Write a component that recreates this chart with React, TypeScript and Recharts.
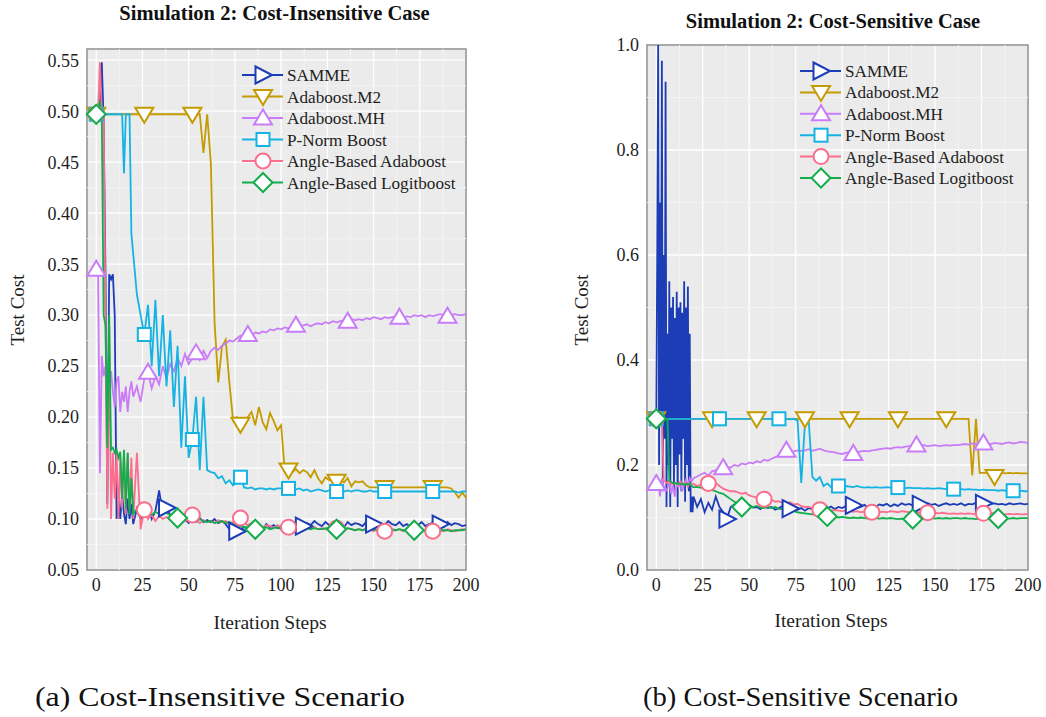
import { LineChart, Line, XAxis, YAxis, CartesianGrid, ReferenceLine, ReferenceArea } from "recharts";

const FONT = '"Liberation Serif", "Times New Roman", serif';

// iteration steps: every step up to 20, then every 2nd step
const STEPS = [
  0, 1, 2, 3, 4, 5, 6, 7, 8, 9, 10, 11, 12, 13, 14, 15, 16, 17, 18, 19, 20,
  22, 24, 26, 28, 30, 32, 34, 36, 38, 40,
  42, 44, 46, 48, 50, 52, 54, 56, 58, 60,
  62, 64, 66, 68, 70, 72, 74, 76, 78, 80,
  82, 84, 86, 88, 90, 92, 94, 96, 98, 100,
  102, 104, 106, 108, 110, 112, 114, 116, 118, 120,
  122, 124, 126, 128, 130, 132, 134, 136, 138, 140,
  142, 144, 146, 148, 150, 152, 154, 156, 158, 160,
  162, 164, 166, 168, 170, 172, 174, 176, 178, 180,
  182, 184, 186, 188, 190, 192, 194, 196, 198, 200,
];
// SAMME in the cost-sensitive run swings at every half step early on
const HALF_STEPS = [
  0, 0.5, 1, 1.5, 2, 2.5, 3, 3.5, 4, 4.5, 5, 5.5, 6, 6.5, 7, 7.5, 8, 8.5, 9, 9.5,
  10, 10.5, 11, 11.5, 12, 12.5, 13, 13.5, 14, 14.5, 15, 15.5, 16, 16.5, 17, 17.5, 18, 18.5, 19, 19.5, 20,
];

const X_TICKS = [0, 25, 50, 75, 100, 125, 150, 175, 200];
const MINOR_X = [12.5, 37.5, 62.5, 87.5, 112.5, 137.5, 162.5, 187.5];
const LEFT_Y_TICKS = [0.05, 0.1, 0.15, 0.2, 0.25, 0.3, 0.35, 0.4, 0.45, 0.5, 0.55];
const LEFT_MINOR_Y = [0.075, 0.125, 0.175, 0.225, 0.275, 0.325, 0.375, 0.425, 0.475, 0.525];
const RIGHT_Y_TICKS = [0, 0.2, 0.4, 0.6, 0.8, 1.0];
const RIGHT_MINOR_Y = [0.1, 0.3, 0.5, 0.7, 0.9];

const SERIES_NAMES = ["SAMME", "Adaboost.M2", "Adaboost.MH", "P-Norm Boost", "Angle-Based Adaboost", "Angle-Based Logitboost"];
const SERIES_KEYS = ["samme", "m2", "mh", "pn", "aa", "al"];
const SERIES_COLORS = ["#1c3db6", "#c49b00", "#c97cf7", "#14b3e3", "#fa6e8e", "#13ad4c"];
const SERIES_SHAPES = ["right", "down", "up", "square", "circle", "diamond"];

// ---- Simulation 2, cost-insensitive ----
const L_SAMME = [
  .50, .49, .505, .548, .49, .34, .115, .34, .335, .34, .30, .10, .12, .10, .125, .105, .095, .12, .10, .115, .095,
  .11, .10, .105, .112, .10, .108, .128, .105, .111, .104,
  .098, .102, .097, .10, .096, .099, .098, .101, .097, .099,
  .097, .10, .096, .098, .095, .09, .087, .088, .09, .092,
  .09, .094, .091, .093, .09, .095, .092, .094, .091, .093,
  .095, .092, .097, .094, .096, .093, .096, .094, .098, .095,
  .093, .097, .094, .096, .093, .095, .092, .097, .094, .096,
  .095, .093, .097, .094, .095, .093, .096, .094, .098, .095,
  .094, .097, .093, .095, .092, .096, .094, .097, .093, .095,
  .096, .093, .095, .092, .097, .094, .096, .095, .093, .094,
];
const L_M2 = [
  .497, .497, .497, .497, .497, .497, .497, .497, .497, .497, .497, .497, .497, .497, .497, .497, .497, .497, .497, .497, .497,
  .497, .497, .497, .497, .497, .497, .497, .497, .497, .497,
  .497, .497, .497, .497, .497, .497, .497, .497, .459, .497,
  .449, .293, .234, .269, .276, .234, .197, .20, .193, .194,
  .20, .205, .192, .21, .195, .188, .204, .196, .187, .192,
  .147, .148, .146, .149, .145, .148, .146, .141, .148, .14,
  .135, .141, .138, .139, .137, .138, .136, .14, .132, .137,
  .136, .137, .133, .131, .131, .131, .131, .131, .131, .131,
  .131, .131, .131, .131, .131, .131, .131, .131, .131, .131,
  .131, .131, .131, .131, .131, .13, .126, .121, .126, .121,
];
const L_MH = [
  .345, .34, .145, .26, .24, .25, .23, .22, .245, .225, .21, .235, .24, .205, .225, .215, .23, .205, .225, .235, .22,
  .23, .215, .238, .244, .228, .24, .232, .25, .238, .252,
  .245, .258, .25, .262, .252, .258, .263, .256, .265, .258,
  .265, .268, .266, .27, .272, .275, .274, .277, .28, .278,
  .281, .28, .283, .282, .284, .283, .286, .285, .287, .286,
  .288, .287, .289, .29, .288, .29, .291, .289, .291, .292,
  .291, .293, .292, .294, .293, .294, .295, .294, .296, .295,
  .296, .295, .297, .296, .298, .297, .296, .298, .297, .298,
  .299, .298, .297, .299, .298, .30, .299, .30, .298, .30,
  .299, .30, .301, .30, .299, .30, .301, .30, .30, .301,
];
const L_PN = [
  .497, .497, .497, .497, .497, .497, .497, .497, .497, .497, .497, .497, .497, .497, .497, .439, .497, .497, .497, .38, .36,
  .32, .30, .281, .31, .25, .315, .24, .30, .23, .285,
  .21, .27, .17, .24, .16, .178, .22, .148, .22, .148,
  .146, .145, .14, .142, .135, .138, .133, .136, .141, .131,
  .13, .131, .129, .13, .13, .129, .13, .129, .13, .13,
  .129, .13, .128, .129, .13, .128, .129, .127, .128, .129,
  .128, .127, .128, .128, .127, .128, .127, .128, .127, .128,
  .128, .127, .127, .128, .127, .127, .128, .127, .127, .127,
  .127, .127, .127, .127, .127, .127, .127, .127, .127, .127,
  .127, .127, .127, .127, .127, .127, .127, .126, .127, .127,
];
const L_AA = [
  .497, .50, .548, .50, .495, .30, .11, .29, .10, .165, .12, .165, .10, .16, .11, .165, .105, .165, .11, .16, .10,
  .165, .09, .109, .10, .104, .098, .103, .10, .102, .099,
  .10, .097, .101, .098, .10, .104, .099, .096, .099, .097,
  .098, .096, .099, .097, .098, .095, .097, .099, .101, .096,
  .094, .096, .093, .095, .092, .094, .093, .091, .094, .092,
  .093, .092, .094, .091, .092, .09, .093, .091, .092, .09,
  .091, .09, .092, .089, .091, .09, .089, .091, .09, .089,
  .09, .089, .091, .09, .088, .09, .089, .088, .09, .089,
  .089, .09, .088, .089, .09, .088, .089, .09, .088, .089,
  .088, .09, .089, .088, .09, .089, .088, .089, .09, .089,
];
const L_AL = [
  .497, .50, .51, .495, .30, .29, .17, .30, .168, .17, .165, .168, .16, .166, .12, .168, .11, .165, .105, .14, .105,
  .11, .108, .106, .11, .104, .107, .105, .108, .106, .104,
  .103, .101, .10, .099, .101, .098, .097, .10, .098, .097,
  .098, .096, .097, .098, .096, .097, .095, .094, .093, .092,
  .092, .091, .09, .093, .091, .092, .09, .091, .092, .09,
  .091, .092, .09, .091, .09, .092, .091, .09, .091, .09,
  .09, .091, .09, .089, .09, .089, .09, .091, .09, .089,
  .09, .089, .09, .089, .09, .089, .09, .089, .089, .09,
  .089, .09, .089, .089, .088, .089, .089, .089, .088, .089,
  .089, .088, .089, .089, .089, .088, .089, .089, .089, .09,
];
const L_MARKS = [
  [38, 76, 112, 150, 186],
  [0, 26, 52, 78, 104, 130, 156, 182],
  [0, 28, 54, 82, 108, 136, 164, 190],
  [0, 26, 52, 78, 104, 130, 156, 182],
  [0, 26, 52, 78, 104, 130, 156, 182],
  [0, 44, 86, 130, 172],
];

// ---- Simulation 2, cost-sensitive ----
// first 41 values on HALF_STEPS, then steps 22..200
const R_SAMME = [
  .29, .6, 1.0, .2, .7, .3, .97, .15, .6, .25, .93, .12, .45, .2, .55, .12, .5, .25, .52, .15,
  .48, .2, .53, .12, .5, .22, .51, .15, .49, .25, .55, .13, .5, .2, .54, .15, .45, .11, .14, .11, .14,
  .12, .135, .11, .128, .115, .14, .12, .11, .097, .12,
  .125, .118, .122, .115, .124, .119, .12, .116, .123, .118,
  .12, .115, .118, .122, .114, .117, .12, .115, .118, .113,
  .118, .116, .12, .115, .119, .117, .121, .116, .12, .118,
  .122, .119, .123, .118, .12, .124, .119, .122, .12, .125,
  .123, .126, .121, .125, .122, .127, .124, .126, .123, .128,
  .125, .123, .127, .124, .126, .122, .125, .127, .124, .126,
  .124, .127, .123, .126, .125, .128, .124, .127, .125, .126,
  .127, .125, .126, .124, .127, .125, .126, .127, .125, .126,
];
const R_M2 = [
  .288, .288, .288, .288, .288, .288, .288, .288, .288, .288, .288, .288, .288, .288, .288, .288, .288, .288, .288, .288, .288,
  .288, .288, .288, .288, .288, .288, .288, .288, .288, .288,
  .288, .288, .288, .288, .288, .288, .288, .288, .288, .288,
  .288, .288, .288, .288, .288, .288, .288, .288, .288, .288,
  .288, .288, .288, .288, .288, .288, .288, .288, .288, .288,
  .288, .288, .288, .288, .288, .288, .288, .288, .288, .288,
  .288, .288, .288, .288, .288, .288, .288, .288, .288, .288,
  .288, .288, .288, .288, .288, .288, .288, .288, .288, .288,
  .288, .288, .288, .288, .18, .288, .185, .185, .185, .185,
  .178, .185, .185, .184, .185, .184, .185, .184, .184, .184,
];
const R_MH = [
  .165, .17, .14, .175, .16, .15, .155, .17, .145, .16, .14, .165, .158, .17, .15, .165, .172, .16, .175, .168, .175,
  .178, .182, .185, .18, .188, .19, .186, .195, .197, .195,
  .2, .198, .203, .201, .205, .203, .207, .205, .21, .208,
  .212, .215, .218, .22, .228, .224, .226, .228, .227, .228,
  .23, .227, .229, .231, .228, .226, .225, .224, .222, .221,
  .223, .225, .222, .224, .226, .227, .226, .228, .229, .23,
  .231, .232, .231, .233, .234, .233, .235, .236, .237, .238,
  .237, .238, .236, .237, .238, .236, .237, .238, .237, .238,
  .238, .239, .24, .239, .241, .24, .241, .242, .241, .24,
  .242, .241, .24, .242, .243, .241, .242, .244, .243, .242,
];
const R_PN = [
  .288, .288, .288, .288, .288, .288, .288, .288, .288, .288, .288, .288, .288, .288, .288, .288, .288, .288, .288, .288, .288,
  .288, .288, .288, .288, .288, .288, .288, .288, .288, .288,
  .288, .288, .288, .288, .288, .288, .288, .288, .288, .288,
  .288, .287, .288, .286, .288, .287, .288, .285, .166, .28,
  .285, .177, .17, .177, .16, .165, .158, .158, .16, .159,
  .16, .159, .158, .16, .158, .157, .158, .157, .158, .157,
  .157, .158, .157, .156, .157, .157, .156, .157, .156, .156,
  .156, .155, .156, .155, .155, .156, .155, .154, .155, .154,
  .154, .154, .153, .154, .153, .153, .152, .153, .152, .152,
  .152, .151, .152, .151, .151, .151, .15, .151, .15, .15,
];
const R_AA = [
  .288, .288, .288, .288, .17, .168, .165, .17, .165, .163, .166, .165, .162, .168, .164, .163, .166, .16, .165, .162, .164,
  .16, .163, .158, .165, .162, .166, .16, .155, .152, .15,
  .15, .148, .145, .147, .142, .14, .138, .136, .135, .132,
  .134, .13, .131, .128, .127, .129, .125, .126, .122, .12,
  .12, .118, .117, .115, .116, .114, .113, .114, .113, .112,
  .113, .112, .111, .112, .11, .111, .109, .11, .111, .11,
  .111, .11, .112, .111, .11, .112, .111, .11, .109, .11,
  .109, .11, .109, .108, .109, .108, .109, .108, .107, .108,
  .107, .108, .107, .108, .107, .106, .107, .108, .107, .109,
  .107, .106, .107, .106, .107, .106, .107, .106, .106, .107,
];
const R_AL = [
  .288, .288, .288, .288, .288, .288, .288, .17, .168, .165, .166, .164, .165, .163, .165, .162, .164, .163, .165, .16, .158,
  .158, .157, .155, .156, .152, .15, .147, .145, .14, .135,
  .13, .127, .12, .123, .121, .12, .122, .119, .118, .12,
  .118, .12, .116, .117, .114, .113, .112, .11, .109, .108,
  .107, .106, .105, .103, .104, .102, .101, .102, .1, .101,
  .1, .099, .1, .099, .1, .099, .098, .099, .099, .098,
  .099, .098, .099, .098, .097, .098, .097, .098, .097, .097,
  .098, .097, .098, .099, .098, .099, .098, .099, .098, .099,
  .099, .098, .099, .098, .098, .097, .098, .097, .098, .097,
  .097, .098, .097, .098, .098, .099, .098, .099, .099, .099,
];
const R_MARKS = [
  [38, 72, 106, 142, 176],
  [0, 30, 54, 80, 104, 130, 156, 182],
  [0, 36, 70, 106, 140, 176],
  [0, 34, 66, 98, 130, 160, 192],
  [0, 28, 58, 88, 116, 146, 176],
  [0, 46, 92, 138, 184],
];

const LEFT_VALUES = [L_SAMME, L_M2, L_MH, L_PN, L_AA, L_AL];
const RIGHT_VALUES = [null, R_M2, R_MH, R_PN, R_AA, R_AL];

function buildRows(values: (number[] | null)[]) {
  return STEPS.map((step, i) => {
    const row: Record<string, number> = { step };
    SERIES_KEYS.forEach((k, s) => {
      const v = values[s];
      if (v) row[k] = v[i];
    });
    return row;
  });
}

const leftData = buildRows(LEFT_VALUES);
const rightData = buildRows(RIGHT_VALUES);
const rightSammeSteps = [...HALF_STEPS, ...STEPS.slice(21)];
const rightSammeRows = rightSammeSteps.map((step, i) => ({ step, samme: R_SAMME[i] }));

function Marker({ shape, x, y, color }: { shape: string; x: number; y: number; color: string }) {
  const st = { fill: "#fff", stroke: color, strokeWidth: 2 };
  switch (shape) {
    case "right":
      return <polygon points={`${x - 7.5},${y - 8.5} ${x + 9},${y} ${x - 7.5},${y + 8.5}`} {...st} />;
    case "down":
      return <polygon points={`${x - 9},${y - 6.5} ${x + 9},${y - 6.5} ${x},${y + 8.5}`} {...st} />;
    case "up":
      return <polygon points={`${x - 9},${y + 6.5} ${x + 9},${y + 6.5} ${x},${y - 8.5}`} {...st} />;
    case "square":
      return <rect x={x - 6.5} y={y - 6.5} width={13} height={13} {...st} />;
    case "circle":
      return <circle cx={x} cy={y} r={7.5} {...st} />;
    default:
      return <polygon points={`${x},${y - 9.5} ${x + 9.5},${y} ${x},${y + 9.5} ${x - 9.5},${y}`} {...st} />;
  }
}

function markerDot(shape: string, color: string, steps: number[]) {
  return (p: any) => {
    const { cx, cy, payload, index } = p;
    if (cx == null || cy == null || !steps.includes(payload.step)) return <g key={`d-${index}`} />;
    return (
      <g key={`d-${index}`}>
        <Marker shape={shape} x={cx} y={cy} color={color} />
      </g>
    );
  };
}

const tickStyle = { fontSize: 18, fill: "#1e1e1e", fontFamily: FONT };

function Panel(props: {
  data: any[]; ownData?: (any[] | null)[]; marks: number[][]; width: number; top: number; right: number;
  yDomain: [number, number]; yTicks: number[]; minorY: number[]; digits: number;
}) {
  const { data, ownData, marks, width, top, right, yDomain, yTicks, minorY, digits } = props;
  return (
    <LineChart
      width={width} height={640} data={data} margin={{ top, right, bottom: 0, left: 27 }}
      style={{ fontFamily: FONT }}
    >
      <CartesianGrid stroke="#ffffff" strokeWidth={1.3} fill="#ebebeb" fillOpacity={1} />
      {MINOR_X.map((x) => <ReferenceLine key={`mx${x}`} x={x} stroke="#f3f3f3" strokeWidth={1} />)}
      {minorY.map((y) => <ReferenceLine key={`my${y}`} y={y} stroke="#f3f3f3" strokeWidth={1} />)}
      <XAxis
        type="number" dataKey="step" domain={[-5, 200]} ticks={X_TICKS}
        tickLine={false} axisLine={false} height={70} tick={tickStyle}
      />
      <YAxis
        type="number" domain={yDomain} ticks={yTicks} width={60}
        tickFormatter={(v: number) => v.toFixed(digits)}
        tickLine={false} axisLine={false} tick={tickStyle}
      />
      {SERIES_KEYS.map((k, s) => {
        const own = ownData ? ownData[s] : null;
        return (
          <Line
            key={k} dataKey={k} type="linear" stroke={SERIES_COLORS[s]} strokeWidth={1.8}
            {...(own ? { data: own } : {})}
            dot={markerDot(SERIES_SHAPES[s], SERIES_COLORS[s], marks[s])}
            activeDot={false} isAnimationActive={false}
          />
        );
      })}
      <ReferenceArea
        x1={-5} x2={200} y1={yDomain[0]} y2={yDomain[1]}
        fill="none" stroke="#8e8e8e" strokeWidth={1.5} ifOverflow="visible"
      />
    </LineChart>
  );
}

function LegendBlock({ x, y, gap }: { x: number; y: number; gap: number }) {
  return (
    <g>
      {SERIES_NAMES.map((name, s) => {
        const cy = y + s * gap;
        return (
          <g key={name}>
            <line x1={x} x2={x + 41} y1={cy} y2={cy} stroke={SERIES_COLORS[s]} strokeWidth={2} />
            <Marker shape={SERIES_SHAPES[s]} x={x + 21} y={cy} color={SERIES_COLORS[s]} />
            <text x={x + 45} y={cy + 6} fontSize={17.2} fill="#1e1e1e">{name}</text>
          </g>
        );
      })}
    </g>
  );
}

export default function App() {
  return (
    <div
      style={{
        position: "absolute", left: 0, top: 0, width: 1046, height: 717,
        background: "#fff", overflow: "hidden", fontFamily: FONT,
      }}
    >
      <div style={{ position: "absolute", left: 0, top: 0 }}>
        <Panel
          data={leftData} marks={L_MARKS} width={520} top={49} right={54}
          yDomain={[0.05, 0.561]} yTicks={LEFT_Y_TICKS} minorY={LEFT_MINOR_Y} digits={2}
        />
      </div>
      <div style={{ position: "absolute", left: 560, top: 0 }}>
        <Panel
          data={rightData} ownData={[rightSammeRows, null, null, null, null, null]}
          marks={R_MARKS} width={486} top={45} right={18}
          yDomain={[0, 1]} yTicks={RIGHT_Y_TICKS} minorY={RIGHT_MINOR_Y} digits={1}
        />
      </div>
      <svg width={1046} height={717} style={{ position: "absolute", left: 0, top: 0, pointerEvents: "none" }} fontFamily={FONT}>
        <text x={274.5} y={20} textAnchor="middle" fontSize={20.5} fontWeight="bold" fill="#111">
          Simulation 2: Cost-Insensitive Case
        </text>
        <text x={833} y={28} textAnchor="middle" fontSize={20.5} fontWeight="bold" fill="#111">
          Simulation 2: Cost-Sensitive Case
        </text>
        <text transform="translate(24,310) rotate(-90)" textAnchor="middle" fontSize={19} fill="#1e1e1e">Test Cost</text>
        <text transform="translate(588,310) rotate(-90)" textAnchor="middle" fontSize={19} fill="#1e1e1e">Test Cost</text>
        <text x={270} y={629} textAnchor="middle" fontSize={19.5} fill="#1e1e1e">Iteration Steps</text>
        <text x={831} y={627} textAnchor="middle" fontSize={19.5} fill="#1e1e1e">Iteration Steps</text>
        <LegendBlock x={242} y={75} gap={21.5} />
        <LegendBlock x={800} y={71} gap={21.4} />
        <text x={35} y={706} fontSize={28} fill="#111" textLength={370} lengthAdjust="spacingAndGlyphs">
          (a) Cost-Insensitive Scenario
        </text>
        <text x={643} y={706} fontSize={28} fill="#111" textLength={315} lengthAdjust="spacingAndGlyphs">
          (b) Cost-Sensitive Scenario
        </text>
      </svg>
    </div>
  );
}
